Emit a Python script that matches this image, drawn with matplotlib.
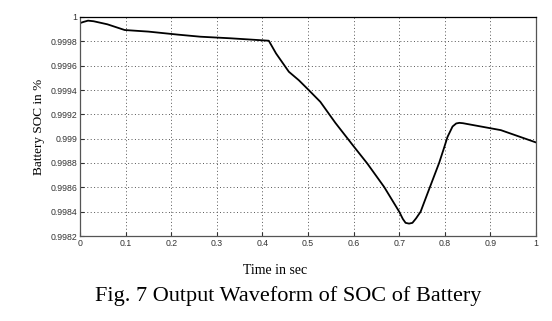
import matplotlib
matplotlib.use("Agg")
import matplotlib.pyplot as plt

time_s = [0.0, 0.008, 0.0176, 0.03, 0.06, 0.098, 0.15, 0.215, 0.264, 0.33, 0.414,
          0.43, 0.458, 0.48, 0.498, 0.527, 0.56, 0.601, 0.63, 0.667, 0.70, 0.708,
          0.714, 0.7216, 0.729, 0.737, 0.747, 0.762, 0.7875, 0.798, 0.806, 0.817,
          0.825, 0.832, 0.84, 0.85, 0.923, 1.0]
soc = [0.99995, 0.99996, 0.99997, 0.999965, 0.99994, 0.999893, 0.99988, 0.999855,
       0.999838, 0.999825, 0.999805, 0.99970, 0.99955, 0.99948, 0.999413, 0.999303,
       0.99913, 0.998933, 0.998796, 0.998603, 0.9984, 0.99834, 0.998308, 0.998302,
       0.998308, 0.998345, 0.9984, 0.998549, 0.99880, 0.99892, 0.999015, 0.9991,
       0.999125, 0.99913, 0.999127, 0.99912, 0.99907, 0.998969]

xticks = [0, 0.1, 0.2, 0.3, 0.4, 0.5, 0.6, 0.7, 0.8, 0.9, 1]
xticklabels = ["0", "0.1", "0.2", "0.3", "0.4", "0.5", "0.6", "0.7", "0.8", "0.9", "1"]
yticks = [0.9982, 0.9984, 0.9986, 0.9988, 0.999, 0.9992, 0.9994, 0.9996, 0.9998, 1]
yticklabels = ["0.9982", "0.9984", "0.9986", "0.9988", "0.999", "0.9992", "0.9994",
               "0.9996", "0.9998", "1"]

fig = plt.figure(figsize=(5.52, 3.21), dpi=100)
ax = fig.add_axes([80/552, 1-236/321, 456/552, 219/321])
ax.plot(time_s, soc, color="black", lw=1.3)
ax.set_xlim(0, 1)
ax.set_ylim(0.9982, 1)
ax.set_xticks(xticks)
ax.set_xticklabels(xticklabels, fontsize=6.3, family="Liberation Sans")
ax.set_yticks(yticks)
ax.set_yticklabels(yticklabels, fontsize=6.3, family="Liberation Sans")
ax.tick_params(direction="in", length=3, width=0.8, pad=2, colors="#333333")
ax.grid(True, linestyle=(0, (1, 2.5)), color="#555555", lw=0.7)
for s in ax.spines.values():
    s.set_color("#555555")
    s.set_linewidth(0.9)
ax.spines["top"].set_color("black")
ax.set_ylabel("Battery SOC in %", family="Liberation Serif", fontsize=9.5, labelpad=4)
fig.text(275/552, 1-271/321, "Time in sec", family="Liberation Serif", fontsize=10,
         ha="center", va="center")
fig.text(288/552, 1-296/321, "Fig. 7 Output Waveform of SOC of Battery",
         family="Liberation Serif", fontsize=16, ha="center", va="center")
fig.savefig("out.png", dpi=100)
